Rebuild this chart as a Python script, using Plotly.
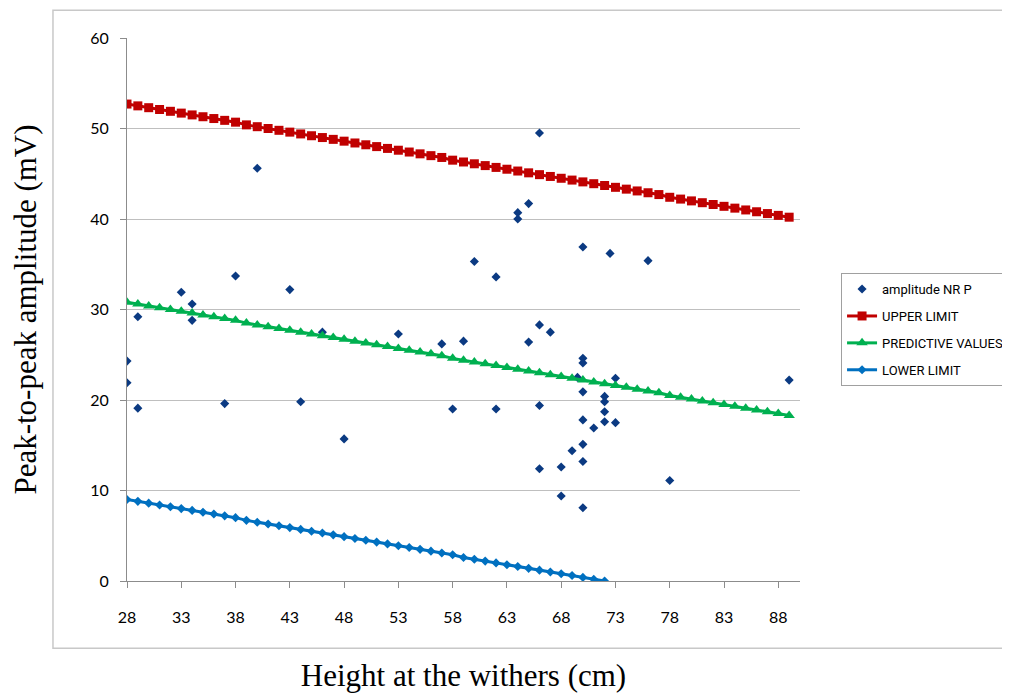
import plotly.graph_objects as go

# ---- data ----
height_cm = [28, 28, 29, 29, 33, 34, 34, 37, 38, 40, 43, 44, 46, 48, 53, 57, 58, 59, 60, 62,
             62, 64, 64, 65, 65, 66, 66, 66, 66, 67, 68, 68, 69, 69.5, 70, 70, 70, 70, 70, 70,
             70, 70, 71, 72, 72, 72, 72, 72.5, 73, 73, 76, 78, 89]
amplitude_mv = [24.3, 21.9, 29.2, 19.1, 31.9, 30.6, 28.8, 19.6, 33.7, 45.6, 32.2, 19.8, 27.5, 15.7, 27.3, 26.2, 19.0, 26.5, 35.3, 33.6,
                19.0, 40.7, 40.0, 41.7, 26.4, 49.5, 28.3, 19.4, 12.4, 27.5, 12.6, 9.4, 14.4, 22.5, 36.9, 24.6, 24.1, 20.9, 17.8, 15.1,
                13.2, 8.1, 16.9, 20.4, 19.8, 18.7, 17.6, 36.2, 22.4, 17.5, 35.4, 11.1, 22.2]

line_x = [28, 29, 30, 31, 32, 33, 34, 35, 36, 37, 38, 39, 40, 41, 42, 43, 44, 45, 46, 47, 48,
          49, 50, 51, 52, 53, 54, 55, 56, 57, 58, 59, 60, 61, 62, 63, 64, 65, 66, 67, 68, 69,
          70, 71, 72, 73, 74, 75, 76, 77, 78, 79, 80, 81, 82, 83, 84, 85, 86, 87, 88, 89]
upper_limit = [52.7, 52.5, 52.3, 52.1, 51.9, 51.7, 51.5, 51.3, 51.1, 50.9, 50.7, 50.4, 50.2, 50.0, 49.8, 49.6, 49.4, 49.2, 49.0, 48.8, 48.6,
               48.4, 48.2, 48.0, 47.8, 47.6, 47.4, 47.2, 47.0, 46.8, 46.5, 46.3, 46.1, 45.9, 45.7, 45.5, 45.3, 45.1, 44.9, 44.7, 44.5, 44.3,
               44.1, 43.9, 43.7, 43.5, 43.3, 43.1, 42.9, 42.7, 42.4, 42.2, 42.0, 41.8, 41.6, 41.4, 41.2, 41.0, 40.8, 40.6, 40.4, 40.2]
predictive_values = [30.8, 30.6, 30.4, 30.2, 30.0, 29.8, 29.6, 29.4, 29.2, 29.0, 28.8, 28.5, 28.3, 28.1, 27.9, 27.7, 27.5, 27.3, 27.1, 26.9, 26.7,
                     26.5, 26.3, 26.1, 25.9, 25.7, 25.5, 25.3, 25.1, 24.9, 24.6, 24.4, 24.2, 24.0, 23.8, 23.6, 23.4, 23.2, 23.0, 22.8, 22.6, 22.4,
                     22.2, 22.0, 21.8, 21.6, 21.4, 21.2, 21.0, 20.8, 20.5, 20.3, 20.1, 19.9, 19.7, 19.5, 19.3, 19.1, 18.9, 18.7, 18.5, 18.3]
lower_x = [28, 29, 30, 31, 32, 33, 34, 35, 36, 37, 38, 39, 40, 41, 42, 43, 44, 45, 46, 47, 48,
           49, 50, 51, 52, 53, 54, 55, 56, 57, 58, 59, 60, 61, 62, 63, 64, 65, 66, 67, 68, 69,
           70, 71, 72]
lower_limit = [9.0, 8.8, 8.6, 8.4, 8.2, 8.0, 7.8, 7.6, 7.4, 7.2, 7.0, 6.7, 6.5, 6.3, 6.1, 5.9, 5.7, 5.5, 5.3, 5.1, 4.9,
               4.7, 4.5, 4.3, 4.1, 3.9, 3.7, 3.5, 3.3, 3.1, 2.9, 2.6, 2.4, 2.2, 2.0, 1.8, 1.6, 1.4, 1.2, 1.0, 0.8, 0.6,
               0.4, 0.2, 0.0]

x_ticks = [28, 33, 38, 43, 48, 53, 58, 63, 68, 73, 78, 83, 88]
y_ticks = [0, 10, 20, 30, 40, 50, 60]

fig = go.Figure()
fig.add_trace(go.Scatter(x=height_cm, y=amplitude_mv, mode="markers", name="amplitude NR P",
                         legendgroup="a",
                         marker=dict(symbol="diamond", size=7, color="#0B3A82")))
fig.add_trace(go.Scatter(x=line_x, y=upper_limit, mode="lines+markers", name="UPPER LIMIT",
                         legendgroup="b",
                         line=dict(color="#C00000", width=3),
                         marker=dict(symbol="square", size=9, color="#C00000")))
fig.add_trace(go.Scatter(x=line_x, y=predictive_values, mode="lines+markers", name="PREDICTIVE VALUES",
                         legendgroup="c",
                         line=dict(color="#00B050", width=3),
                         marker=dict(symbol="triangle-up", size=10, color="#00B050")))
fig.add_trace(go.Scatter(x=lower_x, y=lower_limit, mode="lines+markers", name="LOWER LIMIT",
                         legendgroup="d",
                         line=dict(color="#0070C0", width=3),
                         marker=dict(symbol="diamond", size=7, color="#0070C0")))

tick_font = dict(family="Lato, Open Sans, sans-serif", size=16, color="#000000")
title_font = dict(family="Liberation Serif, Times New Roman, serif", size=31, color="#000000")

fig.update_layout(
    width=1002, height=685,
    margin=dict(l=119, r=210, t=30, b=112, autoexpand=False),
    paper_bgcolor="white", plot_bgcolor="white",
    showlegend=True,
    legend=dict(x=1.061, y=0.567, xanchor="left", yanchor="top",
                bordercolor="#A0A0A0", borderwidth=1, bgcolor="white",
                font=dict(family="Roboto, Lato, sans-serif", size=13, color="#000000"),
                tracegroupgap=7, itemwidth=30),
    shapes=[dict(type="rect", xref="paper", yref="paper", x0=-0.11, x1=1.35, y0=-0.124, y1=1.051,
                 line=dict(color="#C8C8C8", width=1.5), fillcolor="rgba(0,0,0,0)", layer="below")],
)
fig.update_xaxes(range=[28, 90], tickvals=x_ticks, ticktext=[str(v) for v in x_ticks],
                 showgrid=False, zeroline=False, showline=True, linecolor="#8C8C8C", linewidth=1,
                 ticks="outside", ticklen=6, tickcolor="#8C8C8C", tickfont=tick_font,
                 ticklabelstandoff=16, automargin=False,
                 title=dict(text="Height at the withers (cm)", font=title_font, standoff=44))
fig.update_yaxes(range=[0, 60], tickvals=y_ticks, showgrid=True, gridcolor="#BFBFBF", gridwidth=1,
                 zeroline=False, showline=True, linecolor="#8C8C8C", linewidth=1,
                 ticks="outside", ticklen=6, tickcolor="#8C8C8C", tickfont=tick_font,
                 ticklabelstandoff=8, automargin=False,
                 title=dict(text="Peak-to-peak amplitude (mV)", font=title_font, standoff=45))

fig.write_html("out.html")
